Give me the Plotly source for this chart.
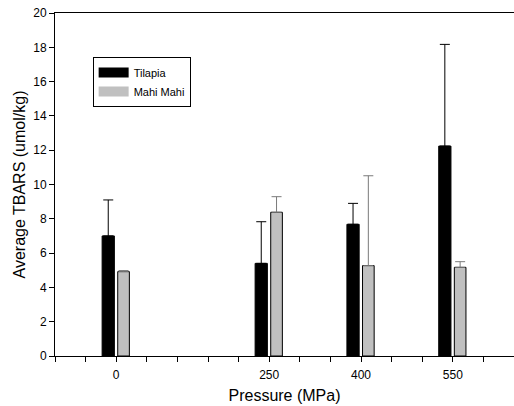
import plotly.graph_objects as go

pressures = [0, 250, 400, 550]
tilapia = [7.0, 5.4, 7.68, 12.24]
tilapia_err = [2.1, 2.43, 1.22, 5.93]
mahi = [4.92, 8.38, 5.27, 5.17]
mahi_err = [0.06, 0.91, 5.24, 0.33]
series_names = ["Tilapia", "Mahi Mahi"]
series_colors = ["black", "#c0c0c0"]

minor_ticks = list(range(-100, 651, 50))
tick_text = [str(v) if v in pressures else "" for v in minor_ticks]

FONT = "Arial, Liberation Sans, sans-serif"

fig = go.Figure()
fig.add_trace(go.Bar(
    x=pressures, y=tilapia, name=series_names[0], showlegend=False,
    offset=-23, width=20,
    marker=dict(color=series_colors[0], line=dict(color="black", width=1)),
    error_y=dict(type="data", array=tilapia_err, arrayminus=[0] * len(tilapia),
                 symmetric=False, color="black", thickness=1, width=5),
))
fig.add_trace(go.Bar(
    x=pressures, y=mahi, name=series_names[1], showlegend=False,
    offset=2.5, width=19,
    marker=dict(color=series_colors[1], line=dict(color="black", width=1)),
    error_y=dict(type="data", array=mahi_err, arrayminus=[0] * len(mahi),
                 symmetric=False, color="#7a7a7a", thickness=1, width=5),
))
# legend-only entries (wide rectangular swatches like the original)
for nm, col in zip(series_names, series_colors):
    fig.add_trace(go.Scatter(
        x=[None], y=[None], mode="lines", name=nm,
        line=dict(color=col, width=10), hoverinfo="skip",
    ))

fig.update_layout(
    width=514, height=406,
    margin=dict(l=55, r=0, t=13, b=50),
    paper_bgcolor="white", plot_bgcolor="white",
    barmode="overlay",
    font=dict(family=FONT, size=12, color="black"),
    showlegend=True,
    legend=dict(
        x=0.082, y=0.872, xanchor="left", yanchor="top",
        bgcolor="white", bordercolor="black", borderwidth=1,
        font=dict(size=11, family=FONT, color="black"),
        itemwidth=30, tracegroupgap=0,
    ),
    xaxis=dict(
        range=[-100, 650], tickmode="array", tickvals=minor_ticks, ticktext=tick_text,
        ticks="outside", ticklen=5, tickcolor="black", tickwidth=1,
        showline=True, linecolor="black", linewidth=1, mirror=True,
        showgrid=False, zeroline=False,
        ticklabelstandoff=3,
        tickfont=dict(size=12),
        title=dict(text="Pressure (MPa)", font=dict(size=16), standoff=8),
    ),
    yaxis=dict(
        range=[0, 20], dtick=2, tick0=0,
        ticks="outside", ticklen=5, tickcolor="black", tickwidth=1,
        showline=True, linecolor="black", linewidth=1,
        showgrid=False, zeroline=False,
        tickfont=dict(size=12),
        title=dict(text="Average TBARS (umol/kg)", font=dict(size=16), standoff=3),
    ),
)

fig.write_html(
    "out.html",
    config={"displayModeBar": False},
    post_script="document.body.style.margin='0';document.body.style.overflow='hidden';",
)
